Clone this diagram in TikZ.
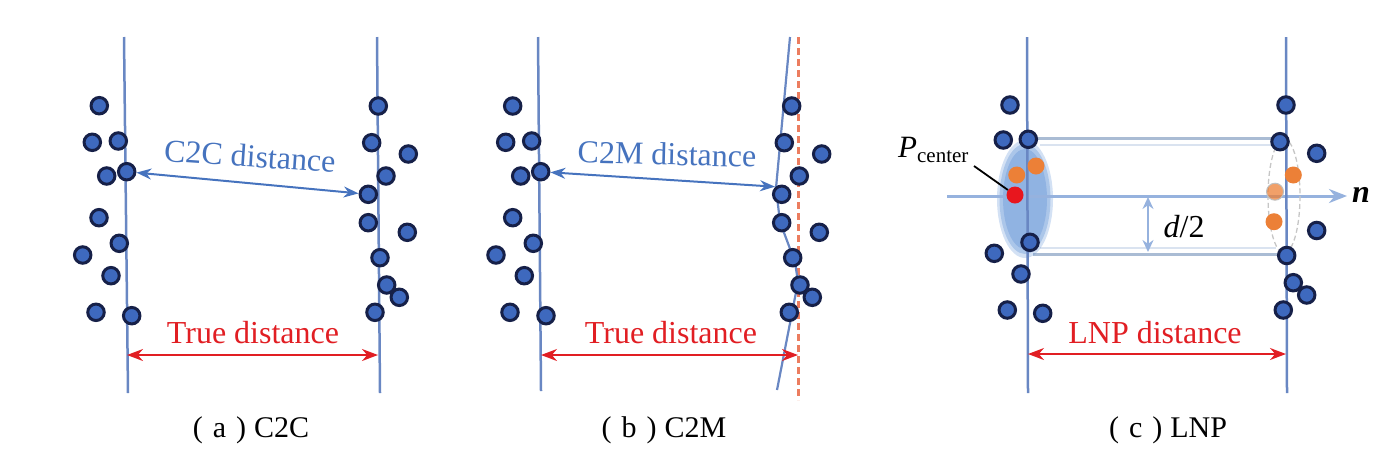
\documentclass[tikz,border=0pt]{standalone}
\usepackage{fontspec}
\setmainfont{Liberation Serif}
\usetikzlibrary{arrows.meta}
\definecolor{dotblue}{RGB}{62,105,190}
\definecolor{dotnavy}{RGB}{22,32,72}
\definecolor{lineblue}{RGB}{105,135,195}
\definecolor{txtblue}{RGB}{70,115,190}
\definecolor{truered}{RGB}{225,30,35}
\definecolor{dashred}{RGB}{236,125,95}
\definecolor{axisblue}{RGB}{150,178,222}
\definecolor{cylgray}{RGB}{170,188,212}
\definecolor{cylfaint}{RGB}{218,227,240}
\definecolor{orng}{RGB}{236,128,55}
\definecolor{pred}{RGB}{232,22,30}
\definecolor{ellblue}{RGB}{80,135,210}
\begin{document}
\begin{tikzpicture}[x=1pt,y=-1pt,
  pt/.style={circle,fill=dotblue,draw=dotnavy,line width=3pt,minimum size=16.5pt,inner sep=0pt},
  opt/.style={circle,fill=orng,minimum size=17pt,inner sep=0pt},
  vline/.style={draw=lineblue,line width=2.5pt},
  truearr/.style={draw=truered,line width=2pt,{Stealth[length=16pt,width=12pt]}-{Stealth[length=16pt,width=12pt]}},
  bluearr/.style={draw=txtblue,line width=2pt,{Stealth[length=15pt,width=11pt]}-{Stealth[length=15pt,width=11pt]}},
  bigtxt/.style={font=\fontsize{32}{38}\selectfont,inner sep=0pt},
  captxt/.style={font=\fontsize{30}{36}\selectfont,inner sep=0pt},
  cyl/.style={draw=cylgray,line width=3pt},
  cylf/.style={draw=cylfaint,line width=2pt}
]
\useasboundingbox (0,0) rectangle (1376,459);

% ---------- panel (a)
\coordinate (aLt) at (124,37); \coordinate (aLb) at (128,393);
\coordinate (aRt) at (377,37); \coordinate (aRb) at (380,393);
\draw[vline] (aLt) -- (aLb);
\draw[vline] (aRt) -- (aRb);
\foreach \x/\y [count=\i] in {99.3/105.7,92.3/142.3,118.3/141,106.7/176,126.7/171.7,99/217.7,119.3/243.3,82.7/255,111/275.7,96/312.3,131.7/315.7}
  \node[pt] (aL\i) at (\x,\y) {};
\foreach \x/\y [count=\i] in {378.3/106,371.7/142.7,408.3/154,386/176,368.3/194.3,368.3/222.7,407.3/232.3,380/257.7,386.7/285,399.3/297.3,375/312.3}
  \node[pt] (aR\i) at (\x,\y) {};
\draw[bluearr] (aL5) -- (aR5);
\node[bigtxt,text=txtblue,rotate=-3.9] (c2c) at (250,156) {C2C distance};
\coordinate (aTl) at (127,355); \coordinate (aTr) at (378,355);
\draw[truearr] (aTl) -- (aTr);
\node[bigtxt,text=truered] (ta) at (253,333) {True distance};
\node[captxt] (capa) at (251,430) {(\hspace{10pt}a\hspace{10pt})\hspace{8pt}C2C};

% ---------- panel (b)
\coordinate (bLt) at (538,37); \coordinate (bLb) at (541,391);
\draw[vline] (bLt) -- (bLb);
\coordinate (bD1) at (798.3,37); \coordinate (bD2) at (798.3,400);
\draw[draw=dashred,line width=2.8pt,dash pattern=on 7pt off 4pt] (bD1) -- (bD2);
\coordinate (bR1) at (790,37); \coordinate (bR2) at (776,188);
\coordinate (bR3) at (780,222); \coordinate (bR4) at (795,262);
\coordinate (bR5) at (798,282); \coordinate (bR6) at (777,390);
\draw[draw=lineblue,line width=2.2pt,line join=round] (bR1) -- (bR2) -- (bR3) -- (bR4) -- (bR5) -- (bR6);
\foreach \x/\y [count=\i] in {512.7/106,505.7/142.3,531.7/141,520.7/176,540.7/171.7,512.7/217.7,533.3/243.3,496/255,524.3/275.7,510/312.3,546/315.7}
  \node[pt] (bL\i) at (\x,\y) {};
\foreach \x/\y [count=\i] in {791.7/106,784.3/142.7,821.7/154,799.3/176,781.7/194.3,781.7/222.7,819.3/232.3,792.7/257.7,800/285,812.3/297.3,789.3/312.3}
  \node[pt] (bR\i) at (\x,\y) {};
\coordinate (bArr) at (775,186.7);
\draw[bluearr] (bL5) -- (bArr);
\node[bigtxt,text=txtblue,rotate=-1.4] (c2m) at (667,154) {C2M distance};
\coordinate (bTl) at (541,355); \coordinate (bTr) at (798,355);
\draw[truearr] (bTl) -- (bTr);
\node[bigtxt,text=truered] (tb) at (671,333) {True distance};
\node[captxt] (capb) at (664,430) {(\hspace{10pt}b\hspace{10pt})\hspace{8pt}C2M};

% ---------- panel (c)
\coordinate (nS) at (947,196); \coordinate (nE) at (1347,196);
\coordinate (h1a) at (1033,138); \coordinate (h1b) at (1274,138);
\coordinate (h2a) at (1033,254); \coordinate (h2b) at (1280,254);
\coordinate (f1a) at (1040,145); \coordinate (f1b) at (1272,145);
\coordinate (f2a) at (1040,248); \coordinate (f2b) at (1276,248);
\draw[cylf] (f1a) -- (f1b);
\draw[cylf] (f2a) -- (f2b);
\draw[cyl] (h1a) -- (h1b);
\draw[cyl] (h2a) -- (h2b);
\fill[ellblue,opacity=0.25] (1025,199) ellipse [x radius=28, y radius=59];
\fill[ellblue,opacity=0.3] (1025,199) ellipse [x radius=25.5, y radius=55];
\fill[ellblue,opacity=0.3] (1025,199) ellipse [x radius=22, y radius=50];
\draw[draw=axisblue,line width=3pt,-{Stealth[length=18pt,width=14pt]}] (nS) -- (nE);
\coordinate (cLt) at (1027,37); \coordinate (cLb) at (1028,393);
\coordinate (cRt) at (1286,37); \coordinate (cRb) at (1287,393);
\draw[vline] (cLt) -- (cLb);
\draw[vline] (cRt) -- (cRb);
\draw[draw=gray!45,line width=1.3pt,dash pattern=on 5pt off 3pt] (1284,196) ellipse [x radius=16, y radius=57];
\foreach \x/\y [count=\i] in {1010/105,1003.3/140,1028.3/139.3,1030/242.3,994.3/253.3,1021/274,1007.3/310,1042.7/313.3}
  \node[pt] (cL\i) at (\x,\y) {};
\foreach \x/\y [count=\i] in {1286/105,1280/141.7,1316.7/153.3,1316.7/230.5,1286.7/255.5,1293.3/282.7,1306.7/295,1283.3/310}
  \node[pt] (cR\i) at (\x,\y) {};
\node[opt] (o1) at (1016.7,175) {};
\node[opt] (o2) at (1036,166) {};
\node[circle,fill=pred,minimum size=17pt,inner sep=0pt] (pcen) at (1015,195) {};
\node[opt] (o3) at (1293.3,175) {};
\node[opt,fill opacity=0.75,draw=gray!50,line width=1pt] (o4) at (1275,191.7) {};
\node[opt] (o5) at (1274,221.7) {};
\node[anchor=base west,inner sep=0pt,font=\fontsize{31}{36}\selectfont] (plab) at (898,157) {\textit{P}\raisebox{-5pt}{\fontsize{21}{24}\selectfont center}};
\coordinate (ldr) at (974,166);
\draw[black,line width=1.8pt] (ldr) -- (pcen);
\coordinate (dT) at (1148,197); \coordinate (dB) at (1148,252);
\draw[draw=axisblue,line width=2.5pt,{Stealth[length=12pt,width=11pt]}-{Stealth[length=12pt,width=11pt]}] (dT) -- (dB);
\node[bigtxt] (dlab) at (1184,227) {\textit{d}/2};
\node[bigtxt,font=\fontsize{32}{38}\selectfont\bfseries\itshape] (nlab) at (1361,195) {n};
\coordinate (cTl) at (1028,354); \coordinate (cTr) at (1286,354);
\draw[truearr] (cTl) -- (cTr);
\node[bigtxt,text=truered] (lnp) at (1155,333) {LNP distance};
\node[captxt] (capc) at (1168,430) {(\hspace{10pt}c\hspace{10pt})\hspace{8pt}LNP};
\end{tikzpicture}
\end{document}
